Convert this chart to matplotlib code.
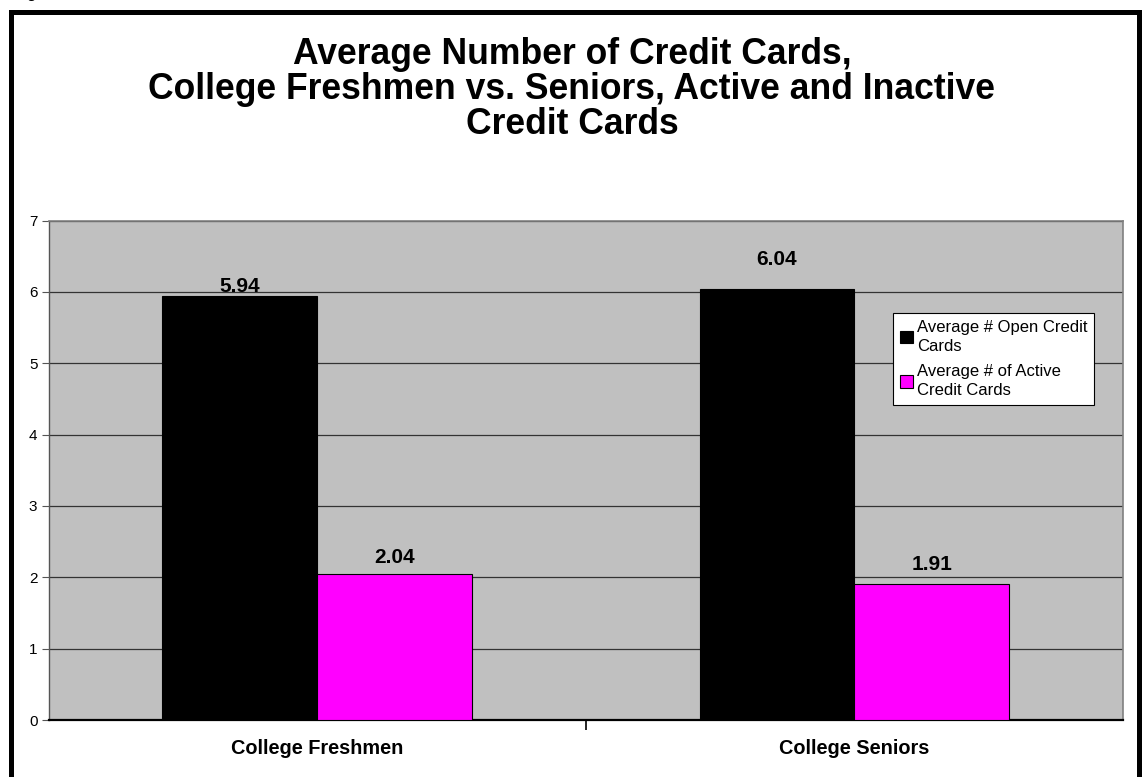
import matplotlib
matplotlib.use("Agg")
import matplotlib.pyplot as plt
import numpy as np
from matplotlib.patches import Rectangle

plt.rcParams["font.family"] = ["Liberation Sans", "DejaVu Sans"]

categories = ["College Freshmen", "College Seniors"]
series_names = ["Average # Open Credit\nCards", "Average # of Active\nCredit Cards"]
open_cards = [5.94, 6.04]
active_cards = [2.04, 1.91]
colors = ["#000000", "#FF00FF"]
title = ("Average Number of Credit Cards,\n"
         "College Freshmen vs. Seniors, Active and Inactive\n"
         "Credit Cards")

W, H = 1143, 777
fig = plt.figure(figsize=(W / 100, H / 100), dpi=100)
ax = fig.add_axes([48.5 / W, 1 - 720 / H, (1123 - 48.5) / W, (720 - 220.5) / H])

x = np.arange(len(categories))
bw = 0.288
b1 = ax.bar(x - bw / 2, open_cards, bw, color=colors[0], edgecolor="black", linewidth=0.8,
            label=series_names[0], zorder=3)
b2 = ax.bar(x + bw / 2, active_cards, bw, color=colors[1], edgecolor="black", linewidth=0.8,
            label=series_names[1], zorder=3)

# label offsets in points (per series, per category)
offsets = [[7, 21], [12, 14]]
for bars, offs in zip((b1, b2), offsets):
    for rect, off in zip(bars, offs):
        h = rect.get_height()
        ax.annotate(f"{h:.2f}", (rect.get_x() + rect.get_width() / 2, h),
                    xytext=(0, off), textcoords="offset points", ha="center", va="center",
                    fontsize=15, fontweight="bold", zorder=4)

ax.set_facecolor("#C0C0C0")
ax.set_xlim(-0.5, 1.5)
ax.set_ylim(0, 7)
ax.set_yticks(range(8))
ax.yaxis.grid(True, color="#333333", linewidth=0.9, zorder=1)
ax.set_axisbelow(True)
ax.tick_params(axis="y", labelsize=11, length=5, width=0.8, color="#555555", pad=3)
ax.set_xticks(x)
ax.set_xticklabels(categories, fontsize=14.3, fontweight="bold")
ax.tick_params(axis="x", length=0, pad=14)
ax.set_xticks([0.5], minor=True)
ax.tick_params(axis="x", which="minor", length=7, width=1.2, color="black")
for s in ("top", "right"):
    ax.spines[s].set_color("#808080")
    ax.spines[s].set_linewidth(1.2)
ax.spines["left"].set_color("#555555")
ax.spines["left"].set_linewidth(1.0)
ax.spines["bottom"].set_color("black")
ax.spines["bottom"].set_linewidth(1.6)

leg = ax.legend(loc="upper left", bbox_to_anchor=(893 / W, 1 - 313 / H), bbox_transform=fig.transFigure,
                fontsize=12, frameon=True, fancybox=False, handlelength=0.8, handleheight=0.8,
                handletextpad=0.25, borderpad=0.4, labelspacing=0.62, borderaxespad=0)
for t in leg.get_texts():
    t.set_linespacing(1.35)
leg.get_frame().set_edgecolor("black")
leg.get_frame().set_linewidth(0.8)
leg.get_frame().set_facecolor("white")
leg.get_frame().set_alpha(1)

fig.text(572 / W, 1 - 89.5 / H, title, ha="center", va="center", fontsize=25.6, fontweight="bold",
         linespacing=1.0)

# page fragment and thick chart border
fig.text(31 / W, 1 + 2 / H, "g", ha="center", va="baseline", fontsize=12)
fig.patches.append(Rectangle((10.5 / W, -0.05), (1138.5 - 10.5) / W, 1 - 12 / H + 0.05,
                             transform=fig.transFigure, fill=False, edgecolor="black",
                             linewidth=3.6, zorder=5))

fig.savefig("out.png", dpi=100)
